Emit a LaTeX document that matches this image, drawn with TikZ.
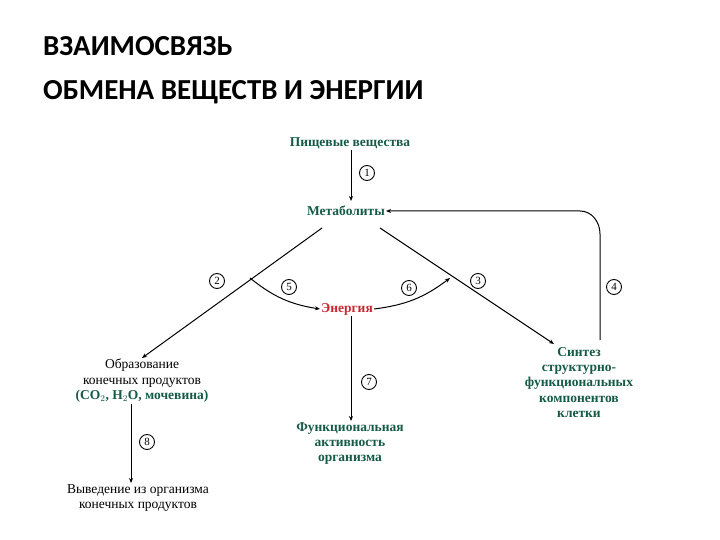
\documentclass[tikz,border=0pt]{standalone}
\usepackage{fontspec}
\setmainfont{Liberation Serif}
\newfontfamily\titlefont{Carlito}
\usetikzlibrary{arrows.meta}
\definecolor{dgreen}{RGB}{20,90,70}
\definecolor{dred}{RGB}{200,40,50}
\begin{document}
\begin{tikzpicture}[x=1pt,y=-1pt,
  lbl/.style={font=\fontsize{13.5}{15.3}\selectfont,align=center,inner sep=1pt},
  gr/.style={lbl,text=dgreen,font=\fontsize{13.5}{15.3}\selectfont\bfseries},
  num/.style={circle,draw,line width=0.9pt,inner sep=0pt,minimum size=15pt,font=\fontsize{11}{11}\selectfont},
  ln/.style={line width=1pt,-{Stealth[length=5pt,width=4pt]}}]
\useasboundingbox (0,0) rectangle (720,540);
\node[anchor=west,font=\titlefont\fontsize{29}{44}\selectfont\bfseries,align=left,inner sep=0] (title) at (43,70) {ВЗАИМОСВЯЗЬ\\ОБМЕНА ВЕЩЕСТВ И ЭНЕРГИИ};
\node[gr] (food) at (350,143) {Пищевые вещества};
\node[gr] (meta) at (346,211) {Метаболиты};
\node[lbl,text=dred,font=\fontsize{13.5}{15}\selectfont\bfseries] (en) at (347,309) {Энергия};
\node[lbl,anchor=north] (obr) at (142,358) {Образование\\конечных продуктов\\\textcolor{dgreen}{\bfseries (CO$_2$, H$_2$O, мочевина)}};
\node[lbl,anchor=north] (vyv) at (138,483) {Выведение из организма\\конечных продуктов};
\node[gr,anchor=north] (fun) at (350,421) {Функциональная\\активность\\организма};
\node[gr,anchor=north] (sin) at (579,346) {Синтез\\структурно-\\функциональных\\компонентов\\клетки};
\coordinate (lt) at (322,228); \coordinate (rt) at (380,228);
\coordinate (b5) at (250,278); \coordinate (b6) at (450,278);
\draw[ln] (food.south -| 351,0) -- (351,201);
\draw[ln] (lt) -- (obr.north);
\draw[ln] (rt) -- (554,344);
\draw[ln] (b5) to[bend right=15] (en.west);
\draw[ln] (en.east) to[bend right=15] (b6);
\draw[ln] (en.south -| 351,0) -- (351,421);
\draw[ln] (obr.south -| 131,0) -- (131,483);
\draw[ln] (600,340) -- (600,234) to[out=90,in=0] (580,211) -- (meta.east);
\node[num] (n1) at (367,173) {1};
\node[num] (n2) at (217,281) {2};
\node[num] (n3) at (478,281) {3};
\node[num] (n4) at (614,287) {4};
\node[num] (n5) at (289,287) {5};
\node[num] (n6) at (409,288) {6};
\node[num] (n7) at (369,382) {7};
\node[num] (n8) at (147,442) {8};
\end{tikzpicture}
\end{document}
